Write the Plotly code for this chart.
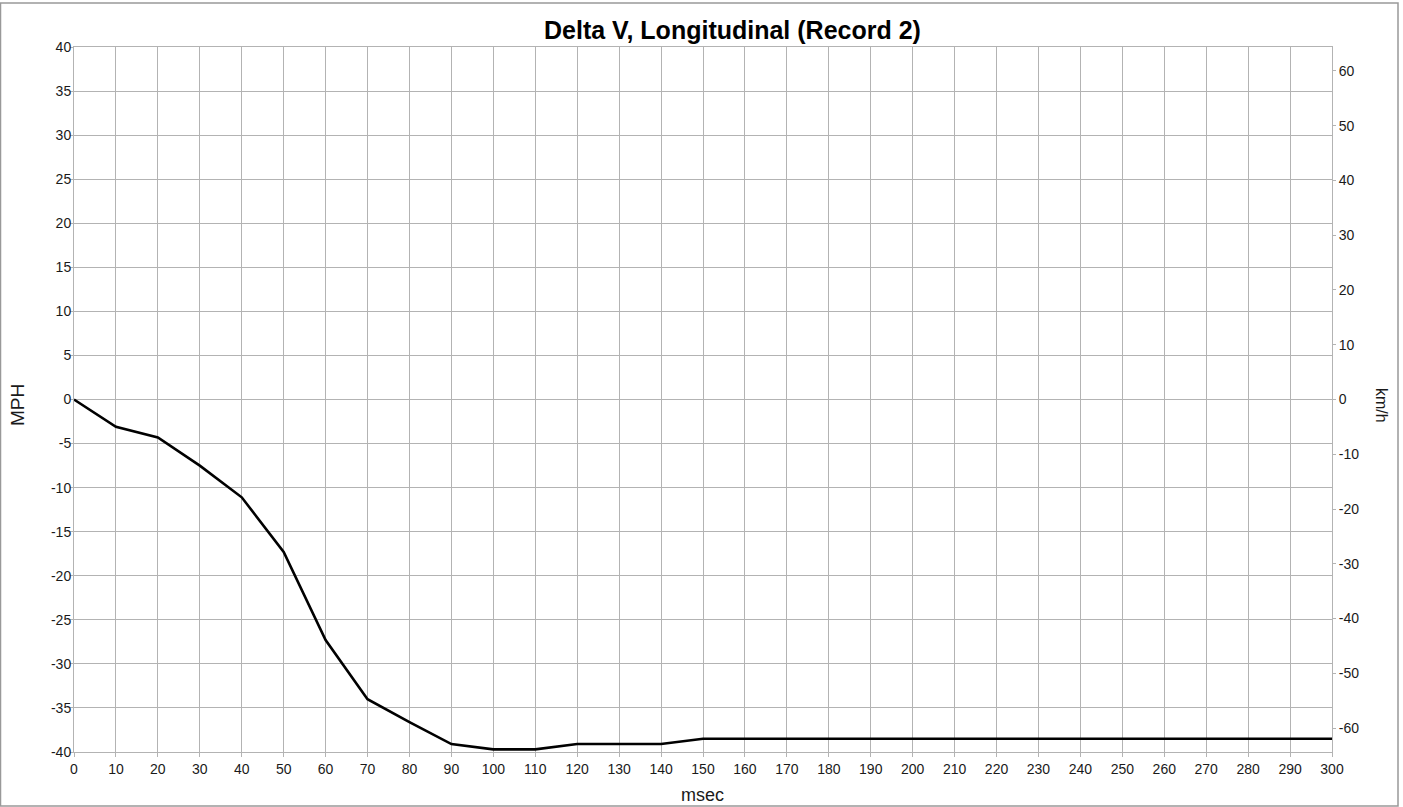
import plotly.graph_objects as go

msec = list(range(0, 301, 10))
mph = [0, -3.1, -4.3, -7.5, -11.1, -17.3, -27.3, -34.0, -36.6, -39.1,
       -39.7, -39.7, -39.1, -39.1, -39.1, -38.5, -38.5, -38.5, -38.5, -38.5,
       -38.5, -38.5, -38.5, -38.5, -38.5, -38.5, -38.5, -38.5, -38.5, -38.5, -38.5]
KMH_PER_MPH = 1.609344
kmh = [v * KMH_PER_MPH for v in mph]

mph_ticks = list(range(-40, 41, 5))
mph_ticktext = [str(v) for v in mph_ticks]
kmh_ticks = list(range(-60, 61, 10))
kmh_ticktext = [str(v) for v in kmh_ticks]

title_text = "Delta V, Longitudinal (Record 2)"
x_title = "msec"
y_title = "MPH"
y2_title = "km/h"

W, H = 1403, 807
ML, MR, MT, MB = 74, 71, 47, 55
PW, PH = W - ML - MR, H - MT - MB

FONT = "Liberation Sans, Arial, sans-serif"
GRID = "#b3b3b3"
TXT = "#1a1a1a"


def px_x(x):
    return (x - ML) / PW


def px_y(y):
    return 1 - (y - MT) / PH


fig = go.Figure()
fig.add_trace(go.Scatter(x=msec, y=mph, mode="lines",
                         line=dict(color="black", width=2.6), showlegend=False))
fig.add_trace(go.Scatter(x=msec, y=kmh, mode="lines", yaxis="y2",
                         line=dict(color="rgba(0,0,0,0)", width=0),
                         hoverinfo="skip", showlegend=False))

fig.update_layout(
    width=W, height=H,
    margin=dict(l=ML, r=MR, t=MT, b=MB, pad=0),
    paper_bgcolor="white", plot_bgcolor="white",
    font=dict(family=FONT, color=TXT, size=14),
    xaxis=dict(range=[0, 300], dtick=10, tick0=0, showgrid=True, gridcolor=GRID, gridwidth=1,
               showline=True, linecolor=GRID, linewidth=1, mirror=True, automargin=False,
               ticks="outside", ticklen=4, tickcolor=GRID, zeroline=False,
               tickfont=dict(size=14, color=TXT)),
    yaxis=dict(range=[-40, 40], tickmode="array", tickvals=mph_ticks, ticktext=mph_ticktext,
               showgrid=True, gridcolor=GRID, gridwidth=1,
               showline=True, linecolor=GRID, linewidth=1, mirror=True, automargin=False,
               ticks="outside", ticklen=3, tickcolor=GRID, zeroline=False,
               ticklabelstandoff=-4,
               tickfont=dict(size=14, color=TXT)),
    yaxis2=dict(range=[-40 * KMH_PER_MPH, 40 * KMH_PER_MPH],
                tickmode="array", tickvals=kmh_ticks, ticktext=kmh_ticktext,
                overlaying="y", side="right", showgrid=False, zeroline=False, automargin=False,
                showline=False, ticks="outside", ticklen=3, tickcolor=GRID,
                tickfont=dict(size=14, color=TXT)),
    annotations=[
        dict(text="<b>" + title_text + "</b>", xref="paper", yref="paper",
             x=px_x(732), y=px_y(30), xanchor="center", yanchor="middle",
             showarrow=False, font=dict(size=25, color="black")),
        dict(text=x_title, xref="paper", yref="paper",
             x=px_x(702), y=px_y(795), xanchor="center", yanchor="middle",
             showarrow=False, font=dict(size=18, color=TXT)),
        dict(text=y_title, textangle=-90, xref="paper", yref="paper",
             x=px_x(18), y=px_y(405), xanchor="center", yanchor="middle",
             showarrow=False, font=dict(size=19, color=TXT)),
        dict(text=y2_title, textangle=90, xref="paper", yref="paper",
             x=px_x(1381), y=px_y(405), xanchor="center", yanchor="middle",
             showarrow=False, font=dict(size=16, color=TXT)),
    ],
    shapes=[dict(type="rect", xref="paper", yref="paper",
                 x0=px_x(0.5), x1=px_x(1398),
                 y0=px_y(806), y1=px_y(3),
                 line=dict(color="#999", width=1.5), layer="below")],
)

fig.write_html("out.html")
